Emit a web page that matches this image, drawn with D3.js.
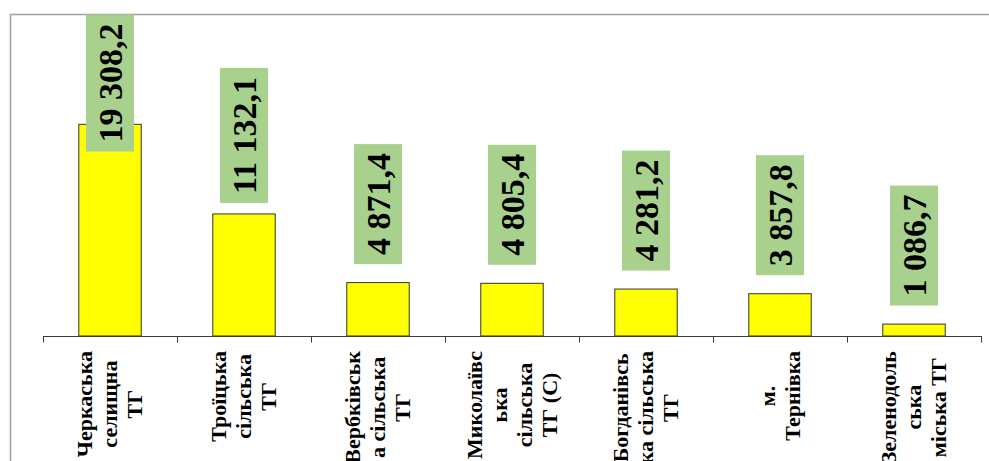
<!DOCTYPE html>
<html>
<head>
<meta charset="utf-8">
<script src="https://cdn.jsdelivr.net/npm/d3@7"></script>
<style>
  html, body { margin: 0; padding: 0; background: #fff; }
  svg { display: block; }
  svg text { font-family: "Liberation Serif", "Times New Roman", "Tinos", "DejaVu Serif", serif; font-weight: bold; }
</style>
</head>
<body>
<svg id="chart" width="989" height="461"></svg>
<script>
// ---- data ----
const categories = [
  "Черкаська селищна ТГ",
  "Троїцька сільська ТГ",
  "Вербківська сільська ТГ",
  "Миколаївська сільська ТГ (С)",
  "Богданівська сільська ТГ",
  "м. Тернівка",
  "Зеленодольська міська ТГ"
];
const categoryLines = [
  ["Черкаська", "селищна", "ТГ"],
  ["Троїцька", "сільська", "ТГ"],
  ["Вербківськ", "а сільська", "ТГ"],
  ["Миколаївс", "ька", "сільська", "ТГ (С)"],
  ["Богданівсь", "ка сільська", "ТГ"],
  ["м.", "Тернівка"],
  ["Зеленодоль", "ська", "міська ТГ"]
];
const values = [19308.2, 11132.1, 4871.4, 4805.4, 4281.2, 3857.8, 1086.7];
const valueLabels = ["19 308,2", "11 132,1", "4 871,4", "4 805,4", "4 281,2", "3 857,8", "1 086,7"];

// ---- layout ----
const W = 989, H = 461;
const plotTop = 14.5;
const axisY = 336;
const xLeft = 43, xRight = 981;

const svg = d3.select("#chart");

const x = d3.scaleBand().domain(categories).range([xLeft, xRight]).padding(0);
const y = d3.scaleLinear().domain([0, 25000]).range([axisY, 61.9]);
const barW = x.bandwidth() * 0.466;

// chart area border (top + left, rest clipped)
svg.append("path")
  .attr("d", `M10.5,${H + 2} L10.5,${plotTop} L${W + 2},${plotTop}`)
  .attr("fill", "none")
  .attr("stroke", "#9f9f9f")
  .attr("stroke-width", 1.5);

// bars
svg.append("g").selectAll("rect")
  .data(categories)
  .join("rect")
  .attr("x", (d) => x(d) + (x.bandwidth() - barW) / 2)
  .attr("y", (d, i) => y(values[i]))
  .attr("width", barW)
  .attr("height", (d, i) => axisY - y(values[i]))
  .attr("fill", "#ffff00")
  .attr("stroke", "#333")
  .attr("stroke-width", 1);

// x axis
const xAxis = d3.axisBottom(x).tickSize(0).tickFormat("");
const gAxis = svg.append("g").attr("transform", `translate(0,${axisY})`).call(xAxis);
gAxis.select(".domain").remove();
gAxis.append("line")
  .attr("x1", xLeft).attr("x2", xRight)
  .attr("y1", 0.5).attr("y2", 0.5)
  .attr("stroke", "#3a3a3a").attr("stroke-width", 1);
const tickPos = categories.map(d => x(d)).concat([xRight]);
gAxis.selectAll(".sep")
  .data(tickPos)
  .join("line")
  .attr("class", "sep")
  .attr("x1", d => Math.round(d) + 0.5).attr("x2", d => Math.round(d) + 0.5)
  .attr("y1", 0).attr("y2", 6.5)
  .attr("stroke", "#3a3a3a").attr("stroke-width", 1);

// category labels (rotated, multi-line, centered)
const catFont = 22, lineH = 25, labelTop = 351;
categories.forEach((c, i) => {
  const cx = x(c) + x.bandwidth() / 2;
  const lines = categoryLines[i];
  const g = svg.append("g").attr("transform", `translate(${cx},0) rotate(-90)`);
  const texts = g.selectAll("text")
    .data(lines)
    .join("text")
    .attr("font-size", catFont)
    .attr("fill", "#000")
    .attr("text-anchor", "middle")
    .attr("y", (d, j) => (j - (lines.length - 1) / 2) * lineH + 7)
    .text(d => d);
  let maxLen = 0;
  texts.each(function () { maxLen = Math.max(maxLen, this.getComputedTextLength()); });
  texts.attr("x", -(labelTop + maxLen / 2));
});

// value labels (green boxes, rotated text)
const valFont = 34, boxW = 48, boxPad = 9, centerOffset = 78.5;
categories.forEach((c, i) => {
  const cx = x(c) + x.bandwidth() / 2;
  const g = svg.append("g");
  const rect = g.append("rect").attr("fill", "#a9d18e");
  const t = g.append("text")
    .attr("font-size", valFont)
    .attr("fill", "#000")
    .attr("text-anchor", "middle")
    .text(valueLabels[i]);
  const len = t.node().getComputedTextLength();
  const boxH = len + 2 * boxPad;
  let cy = y(values[i]) - centerOffset;
  if (cy - boxH / 2 < plotTop) cy = plotTop + boxH / 2;
  rect.attr("x", cx - boxW / 2).attr("y", cy - boxH / 2)
    .attr("width", boxW).attr("height", boxH);
  t.attr("transform", `translate(${cx},${cy}) rotate(-90)`)
    .attr("x", 0).attr("y", 11.5);
});
</script>
</body>
</html>
